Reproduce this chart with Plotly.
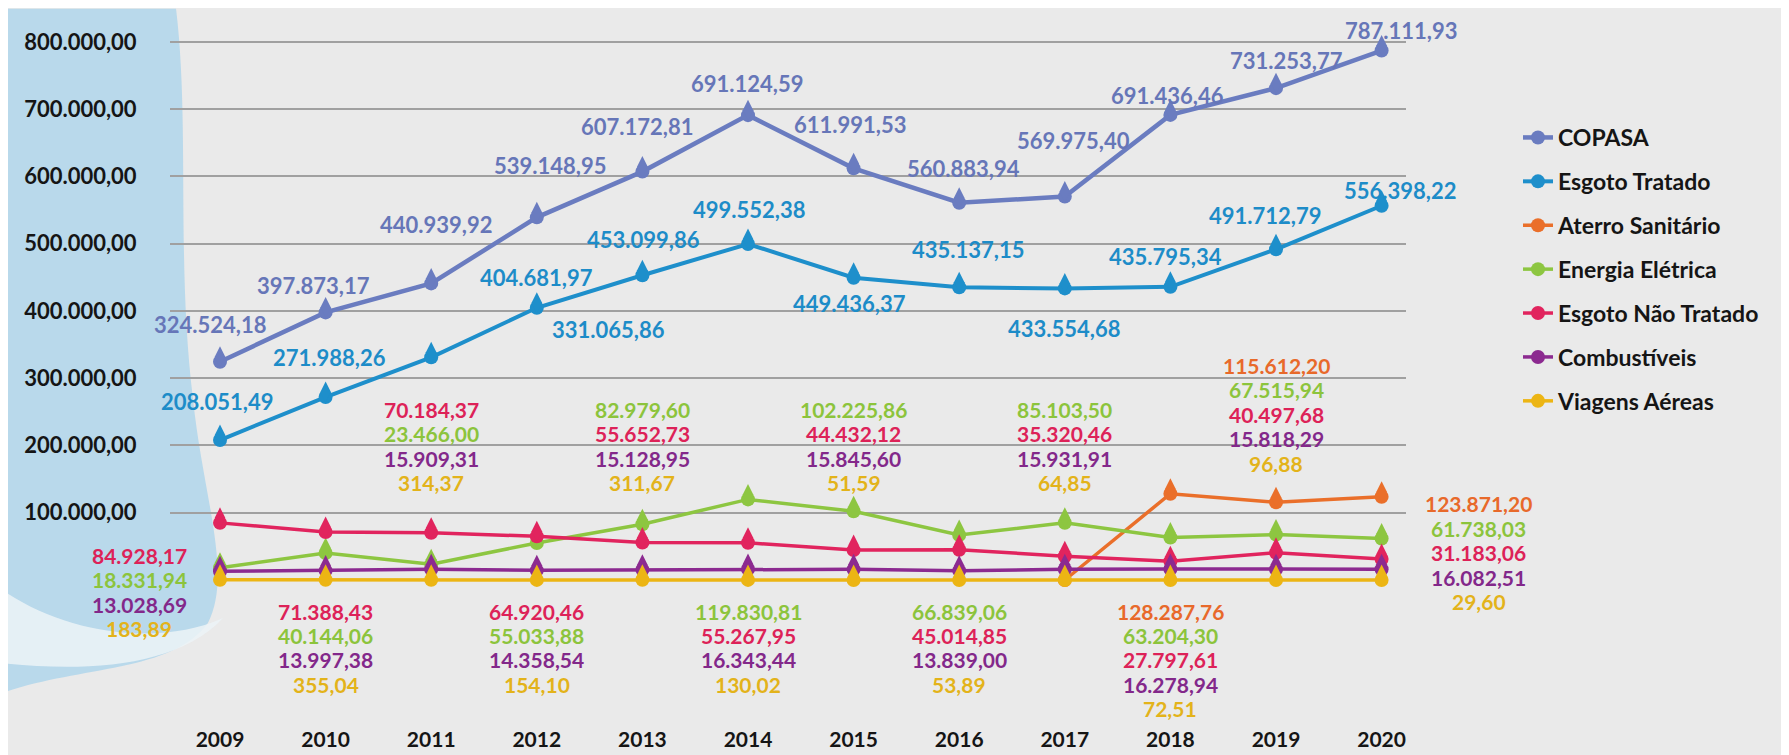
import plotly.graph_objects as go

# ---------------- data ----------------
years = [2009, 2010, 2011, 2012, 2013, 2014, 2015, 2016, 2017, 2018, 2019, 2020]
copasa = [324524.18, 397873.17, 440939.92, 539148.95, 607172.81, 691124.59,
          611991.53, 560883.94, 569975.40, 691436.46, 731253.77, 787111.93]
esgoto_tratado = [208051.49, 271988.26, 331065.86, 404681.97, 453099.86, 499552.38,
                  449436.37, 435137.15, 433554.68, 435795.34, 491712.79, 556398.22]
aterro = [None, None, None, None, None, None, None, None, 0, 128287.76, 115612.20, 123871.20]
energia = [18331.94, 40144.06, 23466.00, 55033.88, 82979.60, 119830.81,
           102225.86, 66839.06, 85103.50, 63204.30, 67515.94, 61738.03]
esgoto_nao = [84928.17, 71388.43, 70184.37, 64920.46, 55652.73, 55267.95,
              44432.12, 45014.85, 35320.46, 27797.61, 40497.68, 31183.06]
combustiveis = [13028.69, 13997.38, 15909.31, 14358.54, 15128.95, 16343.44,
                15845.60, 13839.00, 15931.91, 16278.94, 15818.29, 16082.51]
viagens = [183.89, 355.04, 314.37, 154.10, 311.67, 130.02,
           51.59, 53.89, 64.85, 72.51, 96.88, 29.60]
y_ticks = [100000, 200000, 300000, 400000, 500000, 600000, 700000, 800000]

series = [
    ("COPASA", copasa, "#6a7cc0", 4.5),
    ("Esgoto Tratado", esgoto_tratado, "#1e8fcb", 4.0),
    ("Aterro Sanitário", aterro, "#ea6f2a", 3.5),
    ("Energia Elétrica", energia, "#8dc641", 3.5),
    ("Esgoto Não Tratado", esgoto_nao, "#e1245e", 3.5),
    ("Combustíveis", combustiveis, "#8c2a90", 3.5),
    ("Viagens Aéreas", viagens, "#ecb514", 3.5),
]
label_colors = {
    "COPASA": "#6676b8", "Esgoto Tratado": "#1d8cc8", "Aterro Sanitário": "#e8692a",
    "Energia Elétrica": "#8cc43c", "Esgoto Não Tratado": "#dd2258",
    "Combustíveis": "#83288a", "Viagens Aéreas": "#e3b31a",
}


def br(v):
    s = f"{v:,.2f}"
    return s.replace(",", "X").replace(".", ",").replace("X", ".")


# ---------------- layout geometry (pixels) ----------------
W, H = 1789, 755
L, R, T, B = 162, 1398, 30, 705
FONT = "Lato"

fig = go.Figure()

# each series: line + round drop body, then the pointed drop tip
for i, (name, vals, col, lw) in enumerate(series):
    fig.add_trace(go.Scatter(
        x=years, y=vals, name=name, mode="lines+markers",
        line=dict(color=col, width=lw),
        marker=dict(symbol="circle", size=14, color=col),
        legendgroup=f"g{i}", cliponaxis=False, connectgaps=False,
        hoverinfo="skip",
    ))
    fig.add_trace(go.Scatter(
        x=years, y=vals, mode="markers",
        marker=dict(symbol="diamond-tall", size=15, color=col, angle=180, standoff=5),
        legendgroup=f"g{i}", showlegend=False, cliponaxis=False, hoverinfo="skip",
    ))

annotations = []

# COPASA / Esgoto Tratado labels (pixel offsets from each point)
copasa_dx = [-10, -12, 5, 13, -5, -1, -4, 4, 9, -3, 10, 19]
copasa_dy = [-37, -27, -59, -52, -45, -32, -44, -34, -56, -19, -28, -20]
esgoto_dx = [-3, 4, 177, 0, 1, 1, -4, 9, -1, -5, -11, 18]
esgoto_dy = [-39, -40, -28, -30, -36, -34, 26, -38, 40, -30, -34, -15]

for vals, dxs, dys, name in [(copasa, copasa_dx, copasa_dy, "COPASA"),
                             (esgoto_tratado, esgoto_dx, esgoto_dy, "Esgoto Tratado")]:
    for yr, v, dx, dy in zip(years, vals, dxs, dys):
        annotations.append(dict(
            x=yr, y=v, xref="x", yref="y", text=br(v), showarrow=False,
            xshift=dx, yshift=-dy, xanchor="center", yanchor="middle",
            font=dict(family=FONT, size=22, color=label_colors[name], weight="bold"),
        ))

# stacked labels for the smaller series: (x offset px, first row y px)
stack_pos = {2009: (-81, 561), 2010: (0, 618), 2011: (0, 411), 2012: (0, 618),
             2013: (0, 411), 2014: (0, 618), 2015: (0, 411), 2016: (0, 618),
             2017: (0, 411), 2018: (0, 618), 2019: (0, 366), 2020: (97, 508)}
ROW = 25
small = series[2:]
for j, yr in enumerate(years):
    items = [(vals[j], name) for name, vals, col, lw in small if vals[j]]
    items.sort(key=lambda t: -t[0])
    dx, y0 = stack_pos[yr]
    for k, (v, name) in enumerate(items):
        py = y0 + k * ROW
        annotations.append(dict(
            x=yr, y=(B - py) / (B - T), xref="x", yref="paper", text=br(v),
            showarrow=False, xshift=dx, xanchor="center", yanchor="middle",
            font=dict(family=FONT, size=21, color=label_colors[name], weight="bold"),
        ))


def pp(x, y):
    return f"{(x - L) / (R - L):.4f},{(B - y) / (B - T):.4f}"


blob = ("M " + pp(0, 0) + " L " + pp(168, 0) +
        " C " + pp(182, 120) + " " + pp(168, 260) + " " + pp(185, 400) +
        " C " + pp(195, 500) + " " + pp(225, 580) + " " + pp(200, 630) +
        " C " + pp(165, 680) + " " + pp(70, 675) + " " + pp(0, 700) + " Z")
blob2 = ("M " + pp(0, 600) + " C " + pp(60, 640) + " " + pp(150, 655) + " " + pp(215, 625) +
         " C " + pp(170, 675) + " " + pp(80, 680) + " " + pp(0, 672) + " Z")

y_min = -(B - 586) / 0.69 * 1000
y_max = 800000 + (34 - T) / 0.69 * 1000

fig.update_layout(
    width=W, height=H,
    margin=dict(l=L, r=W - R, t=T, b=H - B, pad=0),
    paper_bgcolor="#eaeaea", plot_bgcolor="rgba(0,0,0,0)",
    font=dict(family=FONT, color="#151515"),
    showlegend=True,
    legend=dict(x=(1510 - L) / (R - L), y=(B - 110) / (B - T), xanchor="left", yanchor="top",
                font=dict(family=FONT, size=23, color="#151515", weight="bold"),
                bgcolor="rgba(0,0,0,0)", traceorder="grouped", tracegroupgap=11,
                itemwidth=30),
    xaxis=dict(range=[2009 - (212 - L) / 105.6, 2009 + (R - 212) / 105.6],
               tickvals=years, ticktext=[str(y) for y in years],
               tickfont=dict(family=FONT, size=21, color="#151515", weight="bold"),
               showgrid=False, zeroline=False, showline=False,
               ticks="outside", ticklen=25, tickcolor="rgba(0,0,0,0)"),
    yaxis=dict(range=[y_min, y_max], tickvals=y_ticks, ticktext=[br(v) for v in y_ticks],
               tickfont=dict(family=FONT, size=22, color="#151515", weight="bold"),
               showgrid=True, gridcolor="#a0a0a0", gridwidth=2, zeroline=False,
               showline=False, ticks="outside", ticklen=28, tickcolor="rgba(0,0,0,0)"),
    annotations=annotations,
    shapes=[
        dict(type="path", path=blob, xref="paper", yref="paper", layer="below",
             fillcolor="#b9d9eb", line=dict(width=0)),
        dict(type="path", path=blob2, xref="paper", yref="paper", layer="below",
             fillcolor="rgba(236,243,247,0.85)", line=dict(width=0)),
    ],
)

fig.write_html("out.html")
